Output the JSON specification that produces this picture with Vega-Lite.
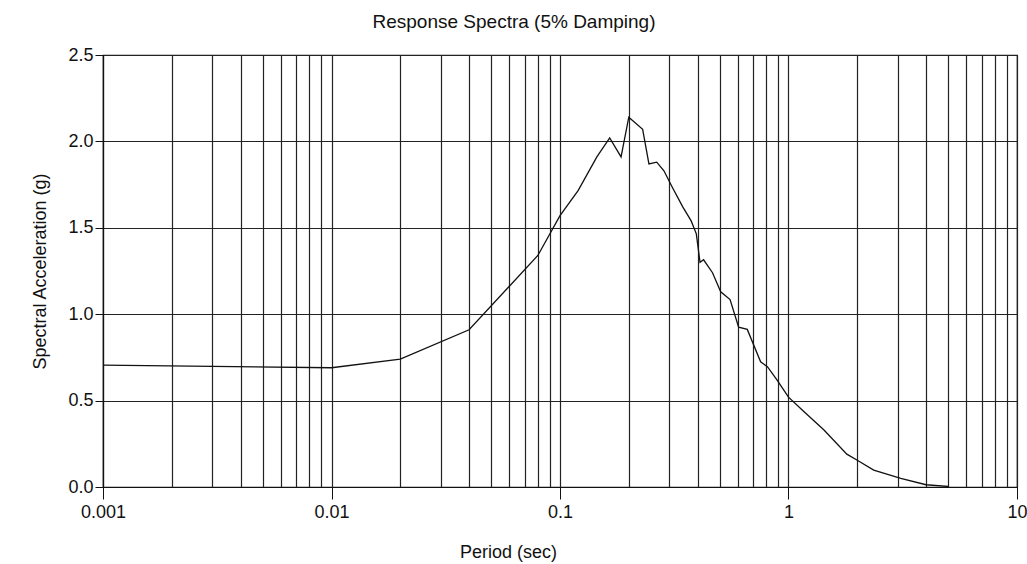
{
  "$schema": "https://vega.github.io/schema/vega-lite/v6.json",
  "autosize": {"type": "none"},
  "padding": {"left": 103, "top": 55, "right": 10, "bottom": 77},
  "width": 914,
  "height": 432,
  "background": "white",
  "title": {
    "text": "Response Spectra (5% Damping)",
    "font": "Liberation Sans",
    "fontSize": 19,
    "fontWeight": "normal",
    "color": "#111",
    "anchor": "middle",
    "baseline": "alphabetic",
    "offset": -1,
    "dx": -46
  },
  "config": {
    "view": {"stroke": "#111", "strokeWidth": 1.2},
    "axis": {
      "labelFont": "Liberation Sans",
      "titleFont": "Liberation Sans",
      "labelFontSize": 18,
      "titleFontSize": 18,
      "titleFontWeight": "normal",
      "labelColor": "#111",
      "titleColor": "#111",
      "domainColor": "#111",
      "tickColor": "#111",
      "gridColor": "#222",
      "gridOpacity": 1,
      "gridWidth": 1,
      "domainWidth": 1.2
    }
  },
  "data": {
    "values": [
      {"period": 0.001, "sa": 0.705},
      {"period": 0.01, "sa": 0.69},
      {"period": 0.02, "sa": 0.74},
      {"period": 0.04, "sa": 0.91},
      {"period": 0.08, "sa": 1.34},
      {"period": 0.1, "sa": 1.57},
      {"period": 0.12, "sa": 1.715},
      {"period": 0.145, "sa": 1.91},
      {"period": 0.165, "sa": 2.02},
      {"period": 0.185, "sa": 1.91},
      {"period": 0.2, "sa": 2.14},
      {"period": 0.23, "sa": 2.07},
      {"period": 0.245, "sa": 1.87},
      {"period": 0.265, "sa": 1.88},
      {"period": 0.285, "sa": 1.83},
      {"period": 0.31, "sa": 1.735},
      {"period": 0.345, "sa": 1.62},
      {"period": 0.375, "sa": 1.54},
      {"period": 0.395, "sa": 1.465},
      {"period": 0.41, "sa": 1.3},
      {"period": 0.425, "sa": 1.315},
      {"period": 0.465, "sa": 1.24},
      {"period": 0.505, "sa": 1.13},
      {"period": 0.555, "sa": 1.085},
      {"period": 0.605, "sa": 0.925},
      {"period": 0.66, "sa": 0.912},
      {"period": 0.755, "sa": 0.725},
      {"period": 0.81, "sa": 0.695},
      {"period": 0.89, "sa": 0.62},
      {"period": 1.0, "sa": 0.52},
      {"period": 1.17, "sa": 0.435},
      {"period": 1.43, "sa": 0.33},
      {"period": 1.8, "sa": 0.19},
      {"period": 2.0, "sa": 0.155},
      {"period": 2.36, "sa": 0.098},
      {"period": 3.1, "sa": 0.05},
      {"period": 4.0, "sa": 0.013},
      {"period": 5.0, "sa": 0.003}
    ]
  },
  "mark": {"type": "line", "color": "#111", "strokeWidth": 1.3, "clip": true},
  "encoding": {
    "x": {
      "field": "period",
      "type": "quantitative",
      "scale": {"type": "log", "domain": [0.001, 10], "nice": false},
      "axis": {
        "title": "Period (sec)",
        "titleX": 405,
        "titleY": 70,
        "titleBaseline": "alphabetic",
        "values": [0.001, 0.002, 0.003, 0.004, 0.005, 0.006, 0.007, 0.008, 0.009,
                   0.01, 0.02, 0.03, 0.04, 0.05, 0.06, 0.07, 0.08, 0.09,
                   0.1, 0.2, 0.3, 0.4, 0.5, 0.6, 0.7, 0.8, 0.9,
                   1, 2, 3, 4, 5, 6, 7, 8, 9, 10],
        "format": "~g",
        "labelExpr": "abs(log(datum.value)/LN10 - round(log(datum.value)/LN10)) < 0.001 ? datum.label : ''",
        "labelOverlap": false,
        "labelFlush": false,
        "labelBound": false,
        "labelBaseline": "alphabetic",
        "tickSize": 12,
        "labelPadding": 18,
        "tickOpacity": {"condition": {"test": "abs(log(datum.value)/LN10 - round(log(datum.value)/LN10)) < 0.001", "value": 1}, "value": 0},
        "grid": true,
        "gridWidth": 1.2
      }
    },
    "y": {
      "field": "sa",
      "type": "quantitative",
      "scale": {"domain": [0, 2.5], "nice": false, "zero": true},
      "axis": {
        "title": "Spectral Acceleration (g)",
        "titleX": -58,
        "titleBaseline": "alphabetic",
        "values": [0, 0.5, 1, 1.5, 2, 2.5],
        "format": ".1f",
        "tickSize": 8,
        "labelPadding": 2,
        "grid": true,
        "labelFlush": false,
        "labelOverlap": false
      }
    }
  }
}
